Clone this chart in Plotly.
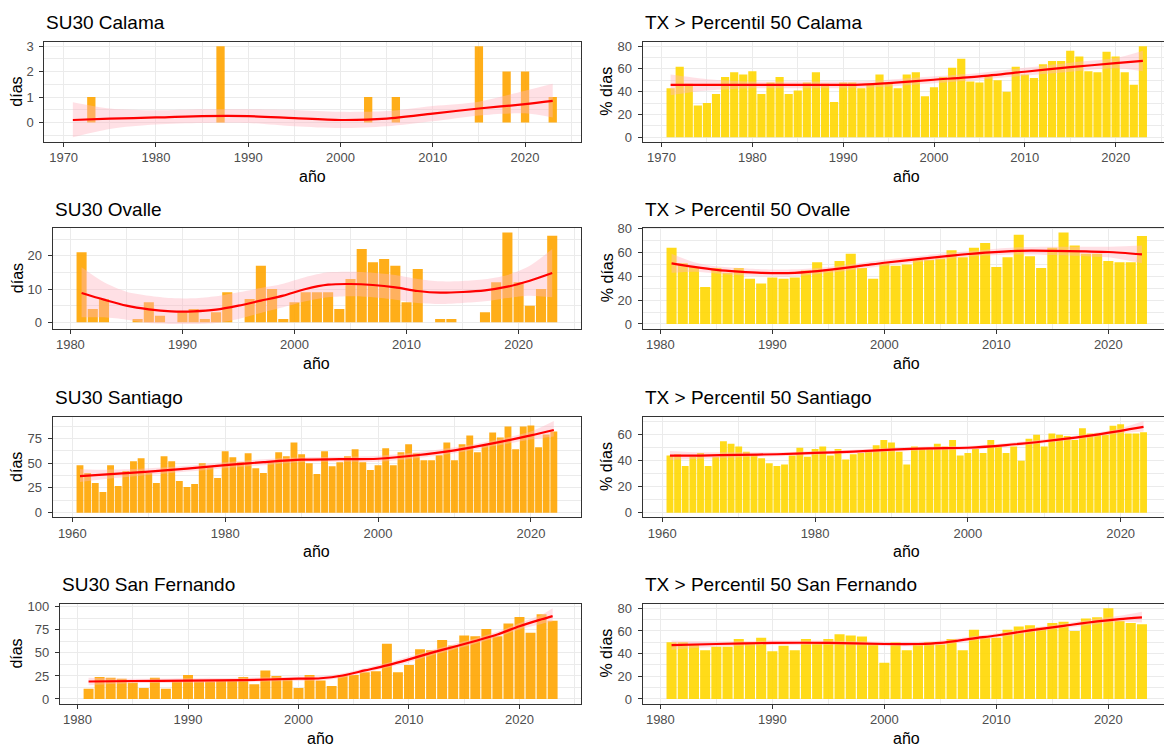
import plotly.graph_objects as go

W, H = 1164, 749

# ------------------------------------------------------------------ data
years_calama = list(range(1971, 2024))
years_81 = list(range(1981, 2024))
years_61 = list(range(1961, 2024))

su30_calama = [0, 0, 1, 0, 0, 0, 0, 0, 0, 0,
               0, 0, 0, 0, 0, 0, 3, 0, 0, 0,
               0, 0, 0, 0, 0, 0, 0, 0, 0, 0,
               0, 0, 1, 0, 0, 1, 0, 0, 0, 0,
               0, 0, 0, 0, 3, 0, 0, 2, 0, 2,
               0, 0, 1]
tx_calama = [43, 62, 47, 28, 30, 38, 53, 57, 55, 58,
             38, 48, 53, 38, 41, 48, 57, 47, 31, 48,
             48, 43, 46, 55, 47, 43, 55, 57, 36, 44,
             53, 61, 69, 49, 48, 54, 50, 40, 62, 55,
             52, 64, 67, 67, 76, 71, 58, 57, 75, 71,
             57, 46, 80]
su30_ovalle = [21, 4, 7, 0, 0, 1, 6, 2, 0, 3,
               4, 1, 3, 9, 0, 7, 17, 10, 1, 6,
               9, 9, 9, 4, 13, 22, 18, 19, 17, 6,
               16, 0, 1, 1, 0, 0, 3, 12, 27, 12,
               5, 10, 26]
tx_ovalle = [64, 51, 48, 31, 47, 43, 47, 38, 34, 39,
             38, 39, 45, 52, 46, 53, 59, 47, 38, 51,
             49, 50, 54, 54, 55, 62, 56, 64, 68, 48,
             56, 75, 57, 47, 64, 77, 66, 59, 59, 53,
             52, 52, 74]
su30_santiago = [48, 40, 30, 21, 48, 27, 42, 52, 55, 40,
                 30, 57, 52, 32, 26, 29, 50, 46, 35, 62,
                 56, 51, 60, 45, 40, 51, 61, 57, 71, 59,
                 50, 39, 62, 47, 51, 57, 64, 51, 43, 48,
                 65, 48, 61, 69, 60, 53, 53, 58, 71, 53,
                 69, 78, 61, 68, 81, 76, 87, 64, 87, 88,
                 66, 79, 82]
tx_santiago = [44, 45, 36, 43, 46, 36, 43, 55, 53, 51,
               47, 45, 42, 38, 36, 37, 44, 50, 43, 49,
               51, 44, 49, 41, 45, 46, 48, 52, 56, 54,
               47, 37, 51, 50, 50, 53, 51, 56, 44, 46,
               49, 46, 56, 51, 46, 51, 40, 57, 60, 51,
               61, 60, 59, 56, 65, 61, 61, 60, 67, 68,
               61, 61, 62]
su30_sanfernando = [11, 24, 23, 22, 18, 12, 23, 11, 19, 26,
                    19, 19, 20, 21, 24, 16, 31, 25, 22, 12,
                    26, 20, 14, 26, 26, 29, 30, 60, 29, 37,
                    54, 53, 64, 58, 69, 68, 76, 68, 82, 89,
                    72, 92, 85]
tx_sanfernando = [50, 50, 48, 43, 46, 46, 53, 49, 54, 42,
                  47, 43, 53, 50, 53, 57, 56, 55, 49, 32,
                  50, 43, 48, 50, 48, 53, 43, 61, 54, 54,
                  61, 64, 65, 63, 67, 68, 60, 71, 72, 80,
                  69, 67, 66]

# smoothed trend (loess) and its confidence band
su30_calama_sy = [1971, 1975, 1980, 1985, 1990, 1995, 2000, 2005, 2010, 2015, 2020, 2023]
su30_calama_fit = [0.10, 0.15, 0.20, 0.25, 0.25, 0.17, 0.10, 0.15, 0.35, 0.55, 0.72, 0.85]
su30_calama_lo = [-0.58, -0.25, -0.08, -0.02, -0.02, -0.15, -0.22, -0.15, 0.05, 0.28, 0.36, 0.20]
su30_calama_hi = [0.80, 0.55, 0.48, 0.52, 0.52, 0.49, 0.42, 0.45, 0.65, 0.82, 1.25, 1.52]

tx_calama_sy = [1971, 1975, 1980, 1985, 1990, 1992, 1995, 2000, 2005, 2010, 2015, 2020, 2023]
tx_calama_fit = [46, 46, 46, 46, 46, 46.2, 47.5, 50.5, 53.5, 57.5, 61.5, 65, 67]
tx_calama_lo = [37, 41, 43, 43, 43, 43.3, 44.5, 47.5, 50.5, 54, 57.5, 60.5, 58]
tx_calama_hi = [55, 51, 49, 49, 49, 49.2, 50.5, 53.5, 56.5, 61, 65.5, 69.5, 76]

su30_ovalle_sy = [1981, 1983, 1985, 1987, 1989, 1991, 1993, 1995, 1997, 1999, 2001,
                  2003, 2005, 2007, 2009, 2011, 2013, 2015, 2017, 2019, 2021, 2023]
su30_ovalle_fit = [8.8, 6.8, 5.0, 3.9, 3.3, 3.3, 3.8, 5.0, 6.5, 8.0, 10.0,
                   11.3, 11.5, 11.2, 10.5, 9.4, 8.9, 9.1, 9.6, 10.7, 12.5, 14.8]
su30_ovalle_lo = [1.5, 1.5, 0.8, -0.2, -0.5, -0.5, -0.2, 1.0, 2.8, 4.5, 6.3,
                  7.5, 7.8, 7.5, 6.8, 5.8, 5.5, 5.8, 6.3, 7.3, 8.0, 7.5]
su30_ovalle_hi = [16.5, 12.0, 9.2, 8.0, 7.3, 7.2, 7.8, 9.0, 10.3, 11.6, 13.6,
                  15.0, 15.2, 14.9, 14.2, 13.0, 12.3, 12.4, 12.9, 14.2, 17.0, 22.0]

tx_ovalle_sy = [1981, 1983, 1985, 1987, 1989, 1992, 1995, 1998, 2000, 2003, 2006,
                2009, 2012, 2015, 2018, 2020, 2023]
tx_ovalle_fit = [51, 48, 45.5, 44, 43, 43, 45.5, 49, 51.5, 54.5, 57.5,
                 60, 61.5, 61.5, 61, 60.5, 58.5]
tx_ovalle_lo = [43, 44, 42.5, 41, 40, 40, 43, 46.5, 49, 52, 55,
                57.5, 58.5, 58, 57, 56, 51]
tx_ovalle_hi = [59, 52, 48.5, 47, 46, 46, 48, 51.5, 54, 57, 60,
                62.5, 64.5, 65, 65, 65, 66]

su30_santiago_sy = [1961, 1965, 1970, 1975, 1980, 1985, 1990, 1995, 2000, 2005, 2010, 2015, 2020, 2023]
su30_santiago_fit = [37, 39, 41.5, 44.5, 48, 51, 53.5, 54, 54.5, 58, 63, 70, 78, 83.5]
su30_santiago_lo = [31, 34.5, 38, 41.5, 45, 48, 51, 51.5, 51.5, 55, 60, 67, 74, 77]
su30_santiago_hi = [44, 43.5, 45, 47.5, 51, 54, 56, 56.5, 57.5, 61, 66, 73, 82, 92.5]

tx_santiago_sy = [1961, 1965, 1970, 1975, 1980, 1985, 1990, 1995, 2000, 2005, 2010, 2015, 2020, 2023]
tx_santiago_fit = [44, 44, 44.5, 45, 46, 47, 48.5, 49.5, 50, 52, 55, 58.5, 63, 66]
tx_santiago_lo = [40.5, 41.5, 42.5, 43.5, 44.5, 45.5, 47, 48, 48.5, 50.5, 53.5, 57, 61, 62.5]
tx_santiago_hi = [47.5, 46.5, 46.5, 46.5, 47.5, 48.5, 50, 51, 51.5, 53.5, 56.5, 60, 65, 70.5]

su30_sanfernando_sy = [1981, 1985, 1990, 1995, 2000, 2002, 2004, 2006, 2008, 2010,
                       2012, 2014, 2016, 2018, 2020, 2022, 2023]
su30_sanfernando_fit = [19, 19.5, 20, 20.5, 22, 22.5, 25.5, 31, 36.5, 43,
                        50, 56.5, 63, 70, 79, 86.5, 90]
su30_sanfernando_lo = [15, 17, 17.5, 18.5, 19.5, 20, 23, 28.5, 34, 40,
                       47, 53.5, 60, 67, 75.5, 81.5, 84]
su30_sanfernando_hi = [23, 22, 22.5, 23, 24.5, 25, 28, 33.5, 39, 46,
                       53, 59.5, 66, 73, 82.5, 91.5, 98.5]

tx_sanfernando_sy = [1981, 1985, 1990, 1995, 2000, 2003, 2005, 2008, 2010, 2013, 2016, 2019, 2021, 2023]
tx_sanfernando_fit = [47.5, 48.5, 49.5, 49.5, 48.5, 48.5, 49.5, 53.5, 56, 60.5, 64.5, 68.5, 70.5, 72]
tx_sanfernando_lo = [43.5, 46, 47.5, 47.5, 46.5, 46.5, 47.5, 51.5, 54, 58.5, 62.5, 66, 68, 67.5]
tx_sanfernando_hi = [51.5, 51, 51.5, 51.5, 50.5, 50.5, 51.5, 55.5, 58, 62.5, 66.5, 71, 73.5, 77]

titles = ["SU30 Calama", "TX > Percentil 50 Calama",
          "SU30 Ovalle", "TX > Percentil 50 Ovalle",
          "SU30 Santiago", "TX > Percentil 50 Santiago",
          "SU30 San Fernando", "TX > Percentil 50 San Fernando"]
y_titles = ["días", "% días"]
x_title = "año"

# ------------------------------------------------------------------ layout / styling
ORANGE = "rgba(255,165,0,0.9)"
GOLD = "rgba(255,215,0,0.9)"
RIBBON = "rgba(255,182,193,0.42)"
GRID = "#EBEBEB"
BORDER = "#333333"
TICKCOL = "#4D4D4D"
FONT = "Liberation Sans, Arial, sans-serif"

row_top = [36, 224.5, 415.5, 605]
row_bot = [137.5, 326.5, 517.5, 706]
left_l = [44.3, 52.5, 52.5, 59.9]
left_r = 581.3
right_l = 642.5
right_r_virtual = 1171.0

panels = [
    dict(t=0, years=years_calama, vals=su30_calama, col=ORANGE, sy=su30_calama_sy, fit=su30_calama_fit,
         lo=su30_calama_lo, hi=su30_calama_hi, ydt=1, ymn=0.5, xdt=10, xmn=5),
    dict(t=1, years=years_calama, vals=tx_calama, col=GOLD, sy=tx_calama_sy, fit=tx_calama_fit,
         lo=tx_calama_lo, hi=tx_calama_hi, ydt=20, ymn=10, xdt=10, xmn=5),
    dict(t=2, years=years_81, vals=su30_ovalle, col=ORANGE, sy=su30_ovalle_sy, fit=su30_ovalle_fit,
         lo=su30_ovalle_lo, hi=su30_ovalle_hi, ydt=10, ymn=5, xdt=10, xmn=5),
    dict(t=3, years=years_81, vals=tx_ovalle, col=GOLD, sy=tx_ovalle_sy, fit=tx_ovalle_fit,
         lo=tx_ovalle_lo, hi=tx_ovalle_hi, ydt=20, ymn=10, xdt=10, xmn=5),
    dict(t=4, years=years_61, vals=su30_santiago, col=ORANGE, sy=su30_santiago_sy, fit=su30_santiago_fit,
         lo=su30_santiago_lo, hi=su30_santiago_hi, ydt=25, ymn=12.5, xdt=20, xmn=10),
    dict(t=5, years=years_61, vals=tx_santiago, col=GOLD, sy=tx_santiago_sy, fit=tx_santiago_fit,
         lo=tx_santiago_lo, hi=tx_santiago_hi, ydt=20, ymn=10, xdt=20, xmn=10),
    dict(t=6, years=years_81, vals=su30_sanfernando, col=ORANGE, sy=su30_sanfernando_sy, fit=su30_sanfernando_fit,
         lo=su30_sanfernando_lo, hi=su30_sanfernando_hi, ydt=25, ymn=12.5, xdt=10, xmn=5),
    dict(t=7, years=years_81, vals=tx_sanfernando, col=GOLD, sy=tx_sanfernando_sy, fit=tx_sanfernando_fit,
         lo=tx_sanfernando_lo, hi=tx_sanfernando_hi, ydt=20, ymn=10, xdt=10, xmn=5),
]

fig = go.Figure()
annotations = []
layout_axes = {}

for i, p in enumerate(panels):
    row, colidx = divmod(i, 2)
    n = i + 1
    xa = "x" if n == 1 else f"x{n}"
    ya = "y" if n == 1 else f"y{n}"
    xkey = "xaxis" if n == 1 else f"xaxis{n}"
    ykey = "yaxis" if n == 1 else f"yaxis{n}"

    # ranges like ggplot (5% expansion)
    x0 = min(p["years"]) - 0.45
    x1 = max(p["years"]) + 0.45
    pad = 0.05 * (x1 - x0)
    xr0, xr1 = x0 - pad, x1 + pad
    ylo = min(0, min(p["lo"]), min(p["vals"]))
    yhi = max(max(p["vals"]), max(p["hi"]))
    ypad = 0.05 * (yhi - ylo)
    yr = [ylo - ypad, yhi + ypad]

    if colidx == 0:
        lpx, rpx = left_l[row], left_r
        xr = [xr0, xr1]
        ymirror = True
    else:
        lpx, rpx = right_l, W
        xr = [xr0, xr0 + (xr1 - xr0) * (W - right_l) / (right_r_virtual - right_l)]
        ymirror = False

    top, bot = row_top[row], row_bot[row]
    xdom = [lpx / W, rpx / W]
    ydom = [1 - bot / H, 1 - top / H]

    fig.add_trace(go.Bar(x=p["years"], y=p["vals"], width=0.9, marker=dict(color=p["col"], line=dict(width=0)),
                         xaxis=xa, yaxis=ya, showlegend=False, hoverinfo="x+y"))
    fig.add_trace(go.Scatter(x=p["sy"], y=p["lo"], mode="lines", line=dict(width=0, shape="spline", smoothing=0.8),
                             xaxis=xa, yaxis=ya, showlegend=False, hoverinfo="skip"))
    fig.add_trace(go.Scatter(x=p["sy"], y=p["hi"], mode="lines", line=dict(width=0, shape="spline", smoothing=0.8),
                             fill="tonexty", fillcolor=RIBBON,
                             xaxis=xa, yaxis=ya, showlegend=False, hoverinfo="skip"))
    fig.add_trace(go.Scatter(x=p["sy"], y=p["fit"], mode="lines",
                             line=dict(color="red", width=2.2, shape="spline", smoothing=0.8),
                             xaxis=xa, yaxis=ya, showlegend=False))

    ticks_common = dict(ticks="outside", ticklen=4, tickwidth=1, tickcolor=BORDER,
                        tickfont=dict(family=FONT, size=13, color=TICKCOL),
                        showgrid=True, gridcolor=GRID, gridwidth=1.2, zeroline=False,
                        showline=True, linecolor=BORDER, linewidth=1)
    layout_axes[xkey] = dict(domain=xdom, range=xr, anchor=ya, tickmode="linear",
                             tick0=1960, dtick=p["xdt"], mirror=True,
                             minor=dict(tick0=1965 if p["xdt"] == 10 else 1970, dtick=p["xmn"],
                                        showgrid=True, gridcolor=GRID, gridwidth=0.6, ticks=""),
                             **ticks_common)
    layout_axes[ykey] = dict(domain=ydom, range=yr, anchor=xa, tickmode="linear",
                             tick0=0, dtick=p["ydt"], mirror=ymirror, ticklabelstandoff=3,
                             minor=dict(tick0=p["ymn"], dtick=p["ydt"],
                                        showgrid=True, gridcolor=GRID, gridwidth=0.6, ticks=""),
                             **ticks_common)

    # title
    annotations.append(dict(text=titles[p["t"]], xref="paper", yref="paper",
                            x=lpx / W, y=1 - (top - 19) / H, xanchor="left", yanchor="middle",
                            showarrow=False, font=dict(family=FONT, size=19, color="black")))
    # x title
    annotations.append(dict(text=x_title, xref="paper", yref="paper",
                            x=(lpx + (581.3 if colidx == 0 else right_r_virtual)) / 2 / W,
                            y=1 - (bot + 35) / H, xanchor="center", yanchor="middle",
                            showarrow=False, font=dict(family=FONT, size=16, color="black")))
    # y title
    annotations.append(dict(text=y_titles[colidx], xref="paper", yref="paper",
                            x=(17 if colidx == 0 else 607) / W, y=1 - (top + bot) / 2 / H,
                            xanchor="center", yanchor="middle", textangle=-90,
                            showarrow=False, font=dict(family=FONT, size=16, color="black")))

fig.update_layout(width=W, height=H, margin=dict(l=0, r=0, t=0, b=0),
                  paper_bgcolor="white", plot_bgcolor="white",
                  annotations=annotations, showlegend=False, **layout_axes)

fig.write_html("out.html")
